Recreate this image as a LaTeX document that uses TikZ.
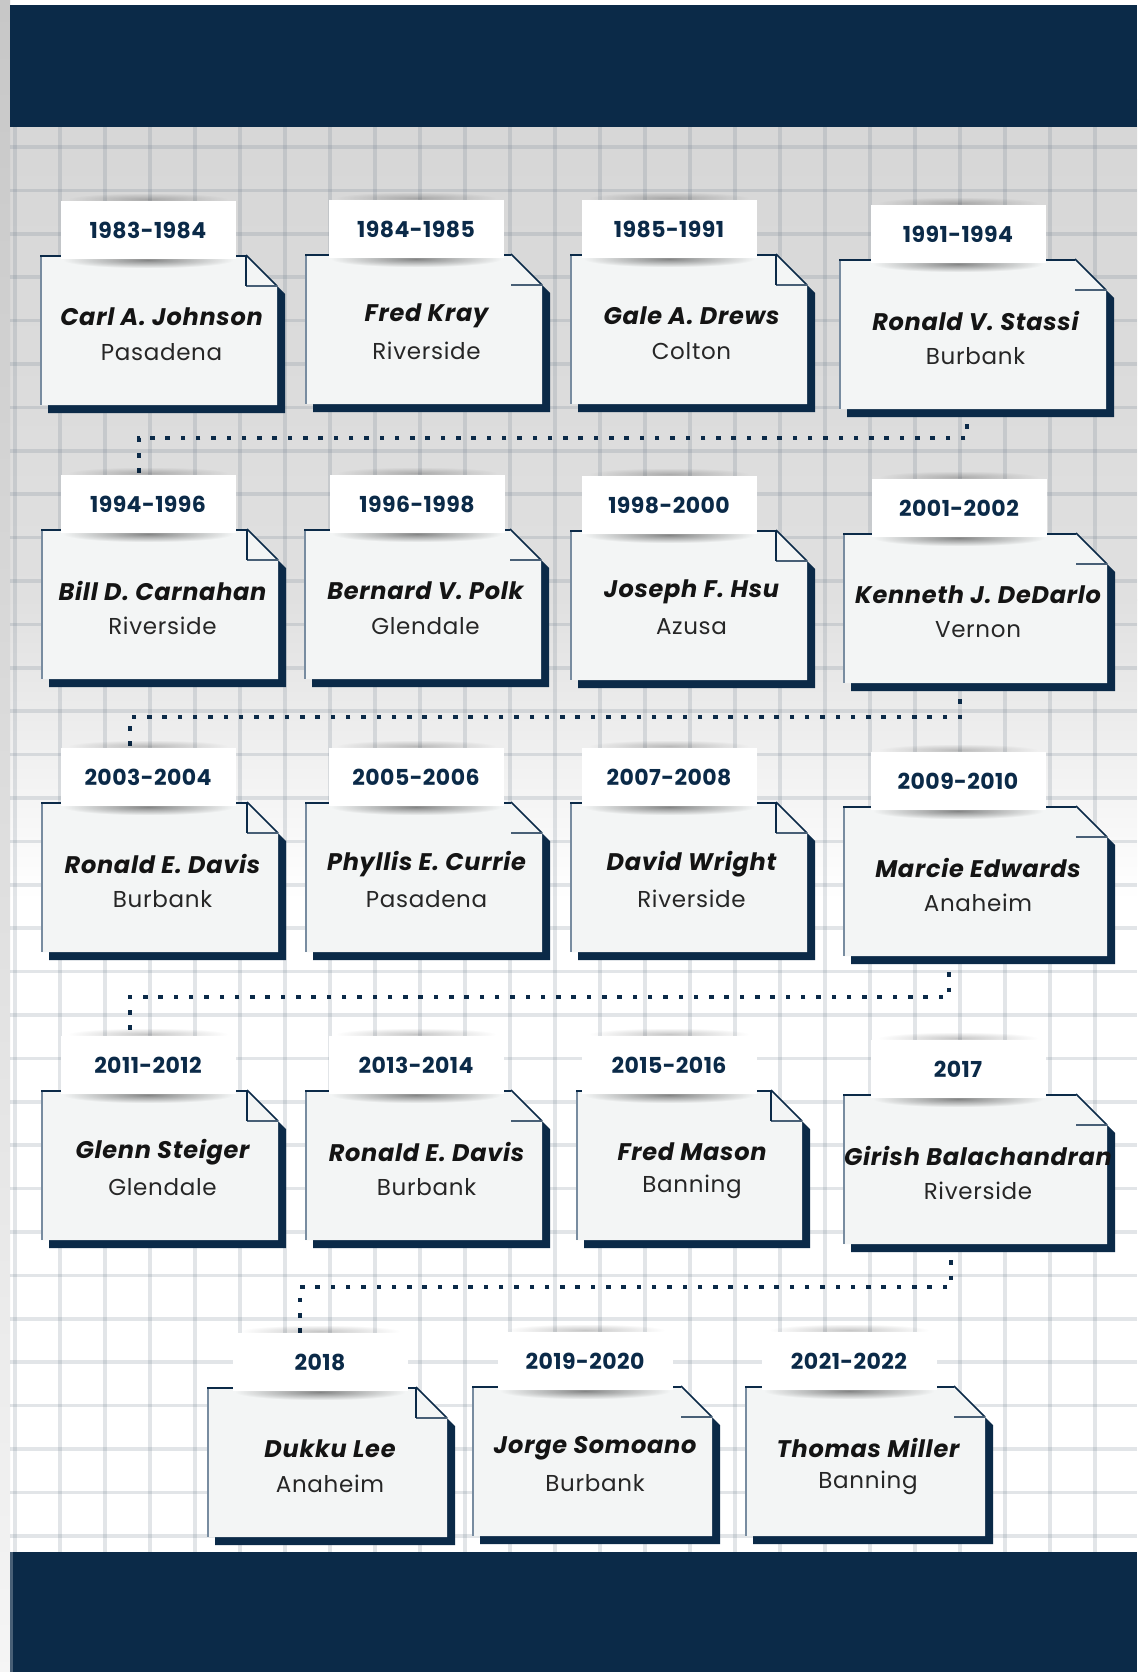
\documentclass[tikz,border=0pt]{standalone}
\usepackage{fontspec}
\setmainfont{Poppins}
\newfontfamily\namefam{Poppins}[LetterSpace=3]
\newfontfamily\cityfam{Poppins}[LetterSpace=3]
\newfontfamily\datefam{Poppins}[LetterSpace=2]
\usetikzlibrary{fadings}
\definecolor{navy}{RGB}{11,42,72}
\definecolor{cardfill}{RGB}{243,245,245}
\definecolor{edgegrey}{RGB}{120,140,160}
\definecolor{bgtop}{RGB}{214,214,214}
\definecolor{bgmid}{RGB}{224,224,224}
\definecolor{gridc}{RGB}{110,125,140}
\tikzfading[name=softshadow, inner color=transparent!0, outer color=transparent!100]
\tikzset{
  labelbox/.style={fill=white, minimum width=175pt, minimum height=58pt, inner sep=0pt, outer sep=0pt,
    text=navy, font=\datefam\fontsize{22}{26}\selectfont\bfseries},
  cardbox/.style={inner sep=0pt, outer sep=0pt},
  namet/.style={inner sep=0pt, text=black!92, font=\namefam\fontsize{24}{28}\selectfont\bfseries\itshape},
  cityt/.style={inner sep=0pt, text=black!85, font=\cityfam\fontsize{23}{27}\selectfont},
  conn/.style={navy, line width=4.5pt, dash pattern=on 4.5pt off 10.8pt},
}
% #1 id, #2 left, #3 top, #4 width, #5 label centre x, #6 date, #7 name, #8 city, #9 vertical flap line (1/0)
\newcommand\mkcard[9]{%
  \pgfmathsetmacro\cL{#2}\pgfmathsetmacro\cT{#3}%
  \pgfmathsetmacro\cR{#2+#4}\pgfmathsetmacro\cB{#3+150}%
  \pgfmathsetmacro\cM{#2+#4/2+3}%
  \fill[navy] (\cL+8,\cT+8) -- (\cR-31+8,\cT+8) -- (\cR+8,\cT+39) -- (\cR+8,\cB+8) -- (\cL+8,\cB+8) -- cycle;
  \node[cardbox, minimum width=#4 pt, minimum height=150pt, anchor=north west] (#1) at (\cL,\cT) {};
  \fill[cardfill] (\cL,\cT) -- (\cR-31,\cT) -- (\cR,\cT+31) -- (\cR,\cB) -- (\cL,\cB) -- cycle;
  \draw[edgegrey, line width=2pt] (\cL+1,\cT) -- (\cL+1,\cB);
  \draw[navy, line width=2pt] (\cL,\cT+1) -- (\cR-31,\cT+1);
  \draw[navy, line width=1.6pt] (\cR-31,\cT) -- (\cR,\cT+31);
  \draw[navy!75, line width=1.6pt] (\cR-31,\cT+31) -- (\cR,\cT+31);
  \ifnum#9=1 \draw[navy, line width=1.6pt] (\cR-31,\cT) -- (\cR-31,\cT+31);\fi
  \fill[black, opacity=.45, path fading=softshadow] (#5-85,\cT-3) rectangle (#5+85,\cT+13);
  \fill[black, opacity=.22, path fading=softshadow] (#5-80,\cT-62) rectangle (#5+80,\cT-50);
  \node[labelbox] (#1l) at (#5,\cT-25) {#6};
  \node[namet] (#1n) at (\cM,\cT+62) {#7};
  \node[cityt] (#1c) at (\cM,\cT+97) {#8};
}
\begin{document}
\begin{tikzpicture}[x=1pt,y=-1pt]
\useasboundingbox (0,0) rectangle (1137,1672);
% background
\fill[white] (0,0) rectangle (1137,1672);
\shade[top color=bgtop, bottom color=bgmid] (0,100) rectangle (1137,600);
\shade[top color=bgmid, bottom color=white] (0,599) rectangle (1137,900);
\shade[top color=black!22, bottom color=black!4] (0,0) rectangle (10,1672);
% grid
\begin{scope}[gridc, opacity=.2, line width=3.5pt]
  \foreach \k in {0,...,25} \draw (15+45*\k,100) -- (15+45*\k,1560);
  \foreach \k in {0,...,33} \draw (10,147+43.4*\k) -- (1137,147+43.4*\k);
\end{scope}
% header and footer
\node[fill=navy, inner sep=0pt, outer sep=0pt, minimum width=1127pt, minimum height=122pt, anchor=north west] (header) at (10,5) {};
\node[fill=navy, inner sep=0pt, outer sep=0pt, minimum width=1127pt, minimum height=120pt, anchor=north west] (footer) at (10,1552) {};
\fill[navy!75] (10,1552) rectangle (13,1672);
% connectors (drawn first, cards cover their ends)
\path (139,475) coordinate (k2)
      (960,684) coordinate (k3) (130,748) coordinate (k4)
      (949,957) coordinate (k5) (130,1036) coordinate (k6)
      (951,1245) coordinate (k7) (300,1333) coordinate (k8);
\draw[conn] (967,409) coordinate (k1) -- (967,438) -| (k2);
\draw[conn] (k3) -- (960,717) -| (k4);
\draw[conn] (k5) -- (949,997) -| (k6);
\draw[conn] (k7) -- (951,1287) -| (k8);
% row 1
\mkcard{r1c1}{40}{255}{237}{148}{1983-1984}{Carl A. Johnson}{Pasadena}{1}
\mkcard{r1c2}{305}{254}{237}{416}{1984-1985}{Fred Kray}{Riverside}{0}
\mkcard{r1c3}{570}{254}{237}{669}{1985-1991}{Gale A. Drews}{Colton}{1}
\mkcard{r1c4}{839}{259}{267}{958}{1991-1994}{Ronald V. Stassi}{Burbank}{0}
% row 2
\mkcard{r2c1}{41}{529}{237}{148}{1994-1996}{Bill D. Carnahan}{Riverside}{1}
\mkcard{r2c2}{304}{529}{237}{417}{1996-1998}{Bernard V. Polk}{Glendale}{0}
\mkcard{r2c3}{570}{530}{237}{669}{1998-2000}{Joseph F. Hsu}{Azusa}{1}
\mkcard{r2c4}{843}{533}{264}{959}{2001-2002}{Kenneth J. DeDarlo}{Vernon}{0}
% row 3
\mkcard{r3c1}{41}{802}{237}{148}{2003-2004}{Ronald E. Davis}{Burbank}{1}
\mkcard{r3c2}{305}{802}{237}{416}{2005-2006}{Phyllis E. Currie}{Pasadena}{0}
\mkcard{r3c3}{570}{802}{237}{669}{2007-2008}{David Wright}{Riverside}{1}
\mkcard{r3c4}{843}{806}{264}{958}{2009-2010}{Marcie Edwards}{Anaheim}{0}
% row 4
\mkcard{r4c1}{41}{1090}{237}{148}{2011-2012}{Glenn Steiger}{Glendale}{1}
\mkcard{r4c2}{305}{1090}{237}{416}{2013-2014}{Ronald E. Davis}{Burbank}{0}
\mkcard{r4c3}{576}{1090}{226}{669}{2015-2016}{Fred Mason}{Banning}{1}
\mkcard{r4c4}{843}{1094}{264}{958}{2017}{Girish Balachandran}{Riverside}{0}
% row 5
\mkcard{r5c1}{207}{1387}{240}{320}{2018}{Dukku Lee}{Anaheim}{1}
\mkcard{r5c2}{472}{1386}{240}{585}{2019-2020}{Jorge Somoano}{Burbank}{0}
\mkcard{r5c3}{745}{1386}{240}{849}{2021-2022}{Thomas Miller}{Banning}{0}
\end{tikzpicture}
\end{document}
